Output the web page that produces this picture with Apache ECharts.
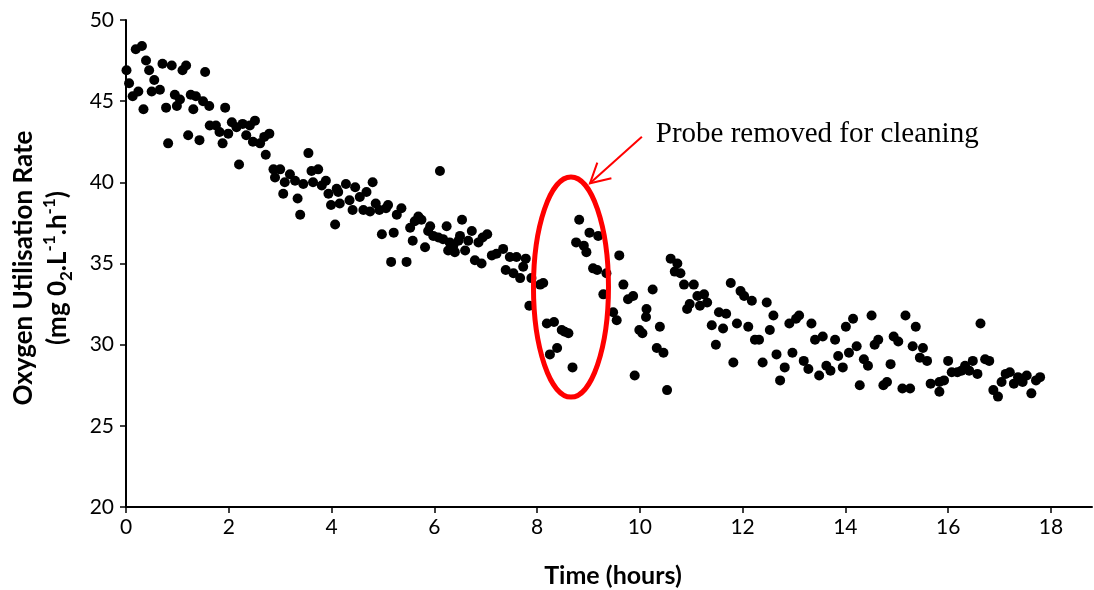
<!DOCTYPE html>
<html><head><meta charset="utf-8">
<script src="https://cdn.jsdelivr.net/npm/echarts@6/dist/echarts.min.js"></script>
<style>html,body{margin:0;padding:0;background:#fff}#c{width:1094px;height:590px}</style>
</head><body><div id="c"></div>
<script>
// Time (hours)
const hours = [
0.01,0.06,0.13,0.19,0.24,0.31,0.34,0.39,0.45,0.50,0.55,0.66,0.71,0.78,0.82,0.89,0.95,0.99,1.05,1.10,1.17,1.21,1.26,1.31,1.36,1.43,1.50,1.54,1.62,1.63,1.75,1.82,1.88,1.93,1.99,2.06,2.15,2.20,2.27,2.34,2.41,2.47,2.51,2.61,2.69,2.72,2.79,
2.87,2.90,3.00,3.06,3.09,3.19,3.29,3.34,3.39,3.45,3.55,3.61,3.64,3.74,3.81,3.89,3.94,3.99,4.07,4.10,4.13,4.16,4.28,4.35,4.41,4.46,4.55,4.62,4.68,4.75,4.80,4.86,4.93,4.98,5.06,5.10,5.16,5.21,5.27,5.36,
5.46,5.53,5.58,5.62,5.69,5.75,5.82,5.88,5.92,5.98,6.08,6.11,6.17,6.24,6.27,6.30,6.37,6.40,6.47,6.50,6.54,6.60,6.66,6.73,6.79,6.86,6.92,6.94,7.03,7.12,7.21,7.34,
7.39,7.47,7.54,7.60,7.67,7.73,7.78,7.85,7.89,8.06,8.12,8.19,8.25,8.33,8.39,8.48,8.54,8.61,8.69,8.76,8.82,8.91,8.96,9.02,9.09,9.17,9.19,9.29,9.35,9.48,9.55,9.60,9.68,9.77,9.87,9.90,9.99,10.05,10.12,10.13,10.25,10.33,10.39,10.46,10.53,10.60,10.68,10.73,10.79,10.86,10.92,10.97,11.05,11.12,11.17,11.25,11.31,11.40,11.48,11.54,11.62,11.68,11.77,11.82,11.89,11.96,12.03,12.11,12.18,12.24,12.32,12.39,12.47,12.53,12.60,12.66,12.73,
12.82,12.91,12.97,13.04,13.10,13.19,13.28,13.34,13.41,13.49,13.56,13.63,13.71,13.80,13.86,13.95,14.01,14.07,14.15,14.22,14.28,14.36,14.44,14.51,14.57,14.64,14.74,14.81,14.88,14.94,15.03,15.11,15.17,15.26,15.31,15.37,15.45,15.51,15.59,15.66,15.83,15.92,15.83,16.00,16.07,16.18,16.26,16.33,16.41,16.48,16.57,16.63,16.72,16.80,16.88,16.97,17.04,17.12,17.20,17.28,17.36,17.45,17.53,17.62,17.71,17.79
];
// Oxygen Utilisation Rate (mg O2/L/h)
const ourValues = [
46.9,46.1,45.3,48.2,45.6,48.4,44.5,47.5,46.9,45.6,46.3,45.7,47.3,44.6,42.4,47.2,45.4,44.7,45.1,46.9,47.2,42.9,45.4,44.5,45.3,42.6,45.0,46.8,44.7,43.5,43.5,43.1,42.4,44.6,43.0,43.7,43.4,41.1,43.6,42.9,43.5,42.5,43.8,42.4,42.8,41.7,43.0,
40.8,40.3,40.8,39.3,40.0,40.5,40.1,39.0,38.0,39.9,41.8,40.7,40.0,40.8,39.8,40.1,39.3,38.6,37.4,39.6,39.4,38.7,39.9,38.9,38.3,39.7,39.1,38.3,39.4,38.2,40.0,38.7,38.3,36.8,38.4,38.6,35.1,36.9,38.0,38.4,
35.1,37.2,36.4,37.6,37.9,37.7,36.0,37.0,37.3,36.7,36.6,40.7,36.5,37.3,35.8,36.3,36.1,35.7,36.4,36.7,37.7,35.8,36.4,37.0,35.2,36.3,35.0,36.6,36.8,35.5,35.6,35.9,
34.6,35.4,34.4,35.4,34.1,34.8,35.3,32.4,34.1,33.7,33.8,31.3,29.4,31.4,29.8,30.9,30.8,30.7,28.6,36.3,37.7,36.1,35.7,36.9,34.7,34.6,36.7,33.1,34.4,32.0,31.5,35.5,33.7,32.8,33.0,28.1,30.9,30.7,31.7,32.2,33.4,29.8,31.1,29.5,27.2,35.3,34.5,35.0,34.4,33.7,32.2,32.5,33.7,33.0,32.4,33.1,32.6,31.2,30.0,32.0,31.0,31.9,33.8,28.9,31.3,33.3,33.0,31.1,32.7,30.3,30.3,28.9,32.6,30.9,31.8,29.4,27.8,
28.6,31.3,29.5,31.6,31.8,29.0,28.5,31.3,30.3,28.1,30.5,28.7,28.4,30.3,29.3,28.6,31.1,29.5,31.6,29.9,27.5,29.1,28.7,31.8,30.0,30.3,27.5,27.7,28.8,30.5,30.2,27.3,31.8,27.3,29.9,31.1,29.2,29.8,29.0,27.6,27.7,27.8,27.1,29.0,28.3,28.3,28.4,28.7,28.4,29.0,28.2,31.3,29.1,29.0,27.2,26.8,27.7,28.2,28.3,27.6,28.0,27.7,28.1,27.0,27.8,28.0
];
const xTicks = [0, 2, 4, 6, 8, 10, 12, 14, 16, 18];
const yTicks = [20, 25, 30, 35, 40, 45, 50];

// Annotation, in data units
const annotationText = 'Probe removed for cleaning';
const ellipseCenter = [8.66, 33.55];
const ellipseRadius = [0.73, 6.78];
const arrowFrom = [10.04, 42.81];
const arrowTo = [9.03, 39.94];
const labelAnchor = [10.31, 42.95];

const chart = echarts.init(document.getElementById('c'), null, {renderer: 'canvas'});
const font = 'Lato';
const option = {
  animation: false,
  backgroundColor: '#fff',
  grid: {left: 126, right: 2, top: 20, bottom: 83, containLabel: false, outerBoundsMode: 'none'},
  xAxis: {
    type: 'value', min: 0, max: 18.8, interval: 2,
    axisLine: {show: true, lineStyle: {color: '#000', width: 2}},
    axisTick: {show: true, length: 6, customValues: xTicks, lineStyle: {color: '#000', width: 1.5}},
    axisLabel: {customValues: xTicks, color: '#000', fontSize: 21, fontFamily: font, margin: 10},
    splitLine: {show: false},
    name: 'Time (hours)', nameLocation: 'middle', nameGap: 56,
    nameTextStyle: {color: '#000', fontSize: 25, fontWeight: 'bold', fontFamily: font, padding: [0, 0, 0, 8]}
  },
  yAxis: {
    type: 'value', min: yTicks[0], max: yTicks[yTicks.length - 1], interval: 5,
    axisLine: {show: true, lineStyle: {color: '#000', width: 2}},
    axisTick: {show: true, length: 6, lineStyle: {color: '#000', width: 1.5}},
    axisLabel: {color: '#000', fontSize: 21, fontFamily: font, margin: 12},
    splitLine: {show: false}
  },
  series: [{
    type: 'scatter',
    data: hours.map((h, i) => [h, ourValues[i]]),
    symbol: 'circle', symbolSize: 10,
    itemStyle: {color: '#000', opacity: 1},
    silent: true
  }]
};
chart.setOption(option);

const px = p => chart.convertToPixel({gridIndex: 0}, p);
const c = px(ellipseCenter);
const e = px([ellipseCenter[0] + ellipseRadius[0], ellipseCenter[1] + ellipseRadius[1]]);
const a0 = px(arrowFrom), a1 = px(arrowTo);
const ang = Math.atan2(a1[1] - a0[1], a1[0] - a0[0]);
const hl = 22, ha = 0.5;
const h1 = [a1[0] - hl * Math.cos(ang - ha), a1[1] - hl * Math.sin(ang - ha)];
const h2 = [a1[0] - hl * Math.cos(ang + ha), a1[1] - hl * Math.sin(ang + ha)];
const lp = px(labelAnchor);

chart.setOption({
  graphic: [
    {type: 'ellipse', z: 100, shape: {cx: c[0], cy: c[1], rx: e[0] - c[0], ry: c[1] - e[1]},
      style: {fill: 'none', stroke: '#ff0000', lineWidth: 5}},
    {type: 'line', z: 100, shape: {x1: a0[0], y1: a0[1], x2: a1[0], y2: a1[1]},
      style: {stroke: '#ff0000', lineWidth: 2}},
    {type: 'polyline', z: 100, shape: {points: [h1, a1, h2]},
      style: {fill: 'none', stroke: '#ff0000', lineWidth: 2}},
    {type: 'text', z: 100, x: lp[0], y: lp[1],
      style: {text: annotationText, fontSize: 29, fontFamily: '"Liberation Serif", serif', fill: '#000', align: 'left', verticalAlign: 'middle'}},
    {type: 'text', z: 100, x: 41, y: 268, rotation: Math.PI / 2,
      style: {
        text: '{a|Oxygen Utilisation Rate}\n{a|(mg 0}{sub|2}{a|.L}{sup|-1}{a|.h}{sup|-1}{a|)}',
        align: 'center', verticalAlign: 'middle', fill: '#000',
        rich: {
          a: {fontSize: 26, fontWeight: 'bold', fontFamily: font, lineHeight: 34, fill: '#000'},
          sup: {fontSize: 17, fontWeight: 'bold', fontFamily: font, lineHeight: 24, verticalAlign: 'top', fill: '#000'},
          sub: {fontSize: 17, fontWeight: 'bold', fontFamily: font, lineHeight: 24, verticalAlign: 'bottom', fill: '#000'}
        }
      }}
  ]
});
</script>
</body></html>
